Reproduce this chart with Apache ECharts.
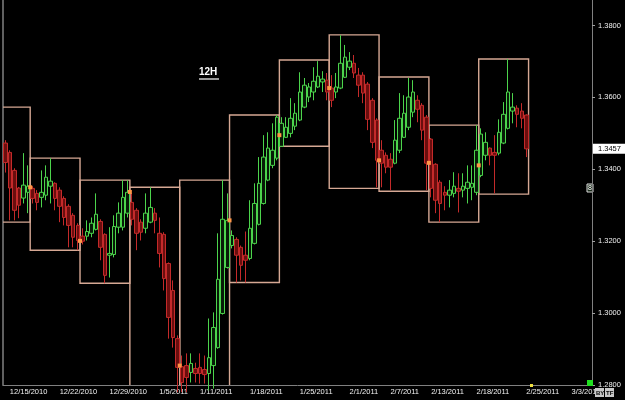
<!DOCTYPE html>
<html>
<head>
<meta charset="utf-8">
<title>12H</title>
<script src="https://cdn.jsdelivr.net/npm/echarts@6/dist/echarts.min.js"></script>
<style>
  html, body { margin: 0; padding: 0; background: #000; }
  #chart { width: 625px; height: 400px; }
</style>
</head>
<body>
<div id="chart"></div>
<script>
// 12H bars, [open, close, low, high]
const candles = [
  [1.3473, 1.3419, 1.3391, 1.3481], [1.3447, 1.3348, 1.3258, 1.3453], [1.3397, 1.3286, 1.3258, 1.3403],
  [1.3348, 1.3300, 1.3264, 1.3351], [1.3320, 1.3356, 1.3305, 1.3445], [1.3336, 1.3353, 1.3278, 1.3411],
  [1.3347, 1.3319, 1.3305, 1.3353], [1.3333, 1.3308, 1.3286, 1.3342], [1.3322, 1.3336, 1.3294, 1.3397],
  [1.3328, 1.3378, 1.3314, 1.3411], [1.3353, 1.3367, 1.3305, 1.3431], [1.3361, 1.3319, 1.3286, 1.3364],
  [1.3342, 1.3297, 1.3253, 1.3350], [1.3319, 1.3266, 1.3244, 1.3325], [1.3297, 1.3244, 1.3183, 1.3303],
  [1.3272, 1.3211, 1.3183, 1.3278], [1.3244, 1.3202, 1.3175, 1.3250],
  [1.3214, 1.3200, 1.3191, 1.3236], [1.3214, 1.3227, 1.3202, 1.3258], [1.3222, 1.3250, 1.3211, 1.3266],
  [1.3233, 1.3275, 1.3230, 1.3333], [1.3255, 1.3183, 1.3147, 1.3261], [1.3219, 1.3105, 1.3083, 1.3222],
  [1.3161, 1.3166, 1.3099, 1.3239], [1.3163, 1.3241, 1.3155, 1.3272], [1.3239, 1.3278, 1.3222, 1.3308],
  [1.3239, 1.3322, 1.3230, 1.3370], [1.3278, 1.3336, 1.3266, 1.3370],
  [1.3308, 1.3261, 1.3244, 1.3333], [1.3286, 1.3222, 1.3175, 1.3292], [1.3253, 1.3225, 1.3202, 1.3261],
  [1.3236, 1.3278, 1.3222, 1.3333], [1.3253, 1.3294, 1.3250, 1.3350], [1.3278, 1.3258, 1.3222, 1.3292],
  [1.3222, 1.3166, 1.3127, 1.3266], [1.3219, 1.3096, 1.3063, 1.3225], [1.3138, 1.2988, 1.2929, 1.3141],
  [1.3063, 1.2932, 1.2904, 1.3091], [1.2929, 1.2849, 1.2780, 1.2938],
  [1.2851, 1.2807, 1.2780, 1.2882], [1.2854, 1.2821, 1.2780, 1.2888], [1.2835, 1.2860, 1.2807, 1.2888],
  [1.2846, 1.2832, 1.2807, 1.2862], [1.2849, 1.2832, 1.2804, 1.2888], [1.2843, 1.2829, 1.2804, 1.2882],
  [1.2832, 1.2876, 1.2785, 1.2985], [1.2854, 1.2960, 1.2790, 1.3002], [1.2904, 1.3094, 1.2901, 1.3222],
  [1.2999, 1.3261, 1.2996, 1.3370], [1.3127, 1.3258, 1.3124, 1.3333],
  [1.3188, 1.3216, 1.3180, 1.3230], [1.3205, 1.3161, 1.3085, 1.3211], [1.3183, 1.3133, 1.3091, 1.3188],
  [1.3161, 1.3147, 1.3085, 1.3227], [1.3152, 1.3236, 1.3147, 1.3314], [1.3194, 1.3305, 1.3191, 1.3361],
  [1.3247, 1.3361, 1.3244, 1.3434], [1.3305, 1.3434, 1.3302, 1.3495], [1.3370, 1.3459, 1.3367, 1.3503],
  [1.3411, 1.3453, 1.3403, 1.3528], [1.3431, 1.3545, 1.3425, 1.3551],
  [1.3464, 1.3528, 1.3464, 1.3545], [1.3489, 1.3517, 1.3487, 1.3545], [1.3500, 1.3542, 1.3489, 1.3598],
  [1.3520, 1.3556, 1.3509, 1.3584], [1.3537, 1.3615, 1.3534, 1.3670], [1.3573, 1.3634, 1.3570, 1.3654],
  [1.3601, 1.3629, 1.3587, 1.3640], [1.3615, 1.3645, 1.3592, 1.3684], [1.3629, 1.3659, 1.3626, 1.3701],
  [1.3643, 1.3651, 1.3615, 1.3673], [1.3648, 1.3615, 1.3592, 1.3668],
  [1.3626, 1.3592, 1.3573, 1.3662], [1.3615, 1.3629, 1.3598, 1.3668], [1.3626, 1.3695, 1.3623, 1.3773],
  [1.3656, 1.3712, 1.3654, 1.3746], [1.3684, 1.3701, 1.3676, 1.3726], [1.3695, 1.3668, 1.3654, 1.3718],
  [1.3662, 1.3634, 1.3601, 1.3682], [1.3662, 1.3612, 1.3584, 1.3670], [1.3637, 1.3539, 1.3509, 1.3643],
  [1.3592, 1.3475, 1.3459, 1.3598], [1.3537, 1.3425, 1.3350, 1.3542],
  [1.3453, 1.3417, 1.3350, 1.3481], [1.3439, 1.3406, 1.3389, 1.3447], [1.3428, 1.3406, 1.3342, 1.3445],
  [1.3417, 1.3481, 1.3414, 1.3537], [1.3453, 1.3542, 1.3445, 1.3612], [1.3489, 1.3556, 1.3487, 1.3606],
  [1.3517, 1.3601, 1.3509, 1.3654], [1.3559, 1.3615, 1.3545, 1.3648], [1.3592, 1.3567, 1.3531, 1.3606],
  [1.3578, 1.3509, 1.3481, 1.3584], [1.3545, 1.3417, 1.3342, 1.3551],
  [1.3484, 1.3347, 1.3322, 1.3487], [1.3414, 1.3314, 1.3278, 1.3417], [1.3364, 1.3305, 1.3253, 1.3370],
  [1.3336, 1.3328, 1.3286, 1.3353], [1.3328, 1.3342, 1.3294, 1.3370], [1.3333, 1.3353, 1.3322, 1.3392],
  [1.3347, 1.3339, 1.3280, 1.3389], [1.3342, 1.3353, 1.3322, 1.3389], [1.3347, 1.3364, 1.3305, 1.3411],
  [1.3350, 1.3361, 1.3314, 1.3411], [1.3336, 1.3453, 1.3328, 1.3523],
  [1.3383, 1.3498, 1.3378, 1.3514], [1.3439, 1.3475, 1.3425, 1.3503], [1.3459, 1.3439, 1.3411, 1.3461],
  [1.3447, 1.3439, 1.3333, 1.3495], [1.3445, 1.3503, 1.3439, 1.3539], [1.3473, 1.3553, 1.3470, 1.3587],
  [1.3514, 1.3615, 1.3511, 1.3707], [1.3562, 1.3573, 1.3528, 1.3612], [1.3570, 1.3553, 1.3517, 1.3578],
  [1.3562, 1.3542, 1.3514, 1.3584], [1.3551, 1.3457, 1.3434, 1.3553]
]

// weekly range boxes (first week starts before the visible bars)
const weekStart = [-5, 6, 17, 28, 39, 50, 61, 72, 83, 94, 105]
const weekHigh = [1.3573, 1.3431, 1.3370, 1.3350, 1.3370, 1.3551, 1.3704, 1.3774, 1.3657, 1.3523, 1.3707]
const weekLow = [1.3253, 1.3175, 1.3083, 1.2785, 1.2785, 1.3085, 1.3464, 1.3347, 1.3339, 1.3253, 1.3331]
const weekOpen = [null, 1.3350, 1.3201, 1.3337, 1.2854, 1.3258, 1.3495, 1.3626, 1.3425, 1.3418, 1.3411]

const barCount = 130 // empty bars on the right
const tickIndex = [1, 12, 23, 34, 43, 54, 65, 76, 85, 94, 104, 115, 125]
const tickLabels = ['12/15/2010', '12/22/2010', '12/29/2010', '1/5/2011', '1/11/2011', '1/18/2011',
  '1/25/2011', '2/1/2011', '2/7/2011', '2/13/2011', '2/18/2011', '2/25/2011', '3/3/2011']
const lastPrice = 1.3457

const font = 'Liberation Sans, Arial, sans-serif'
const categories = Array.from({ length: barCount }, (_, i) => String(i))
const weeks = weekStart.map((s, i) => [s, s + 10, weekHigh[i], weekLow[i]])
const opens = weekStart.map((s, i) => [s, weekOpen[i]]).filter(d => d[1] != null)

function renderWeek(params, api) {
  const bw = api.size([1, 0])[0]
  const tl = api.coord([api.value(0), api.value(2)])
  const br = api.coord([api.value(1), api.value(3)])
  const x0 = tl[0] - bw / 2
  const x1 = br[0] + bw / 2
  return {
    type: 'rect',
    shape: { x: x0, y: tl[1], width: x1 - x0, height: br[1] - tl[1] },
    style: { fill: 'none', stroke: '#d6a894', lineWidth: 1.4 }
  }
}

// week open marker sits on the box's left edge
function renderOpen(params, api) {
  const bw = api.size([1, 0])[0]
  const p = api.coord([api.value(0), api.value(1)])
  return {
    type: 'rect',
    shape: { x: p[0] - bw / 2 - 2, y: p[1] - 2, width: 4, height: 4 },
    style: { fill: '#ff9646' }
  }
}

const chart = echarts.init(document.getElementById('chart'))
chart.setOption({
  animation: false,
  backgroundColor: '#000',
  title: {
    text: '12H',
    left: 199,
    top: 67,
    padding: 0,
    textStyle: { color: '#fff', fontSize: 10, fontWeight: 'bold', fontFamily: font }
  },
  grid: { left: 3, right: 33, top: 0, bottom: 15 },
  xAxis: {
    type: 'category',
    data: categories,
    axisLine: { lineStyle: { color: '#808080' } },
    axisTick: {
      interval: (i) => tickIndex.includes(i),
      length: 3,
      lineStyle: { color: '#808080' }
    },
    axisLabel: {
      interval: (i) => tickIndex.includes(i),
      formatter: (v, i) => tickLabels[tickIndex.indexOf(i)],
      color: '#f0f0f0',
      fontSize: 7.5,
      fontFamily: font,
      align: 'left',
      margin: 3
    },
    splitLine: { show: false }
  },
  yAxis: [
    {
      type: 'value',
      position: 'right',
      min: 1.28,
      max: 1.3871,
      interval: 0.02,
      axisLine: { show: true, lineStyle: { color: '#808080' } },
      axisTick: { show: true, length: 3, lineStyle: { color: '#a0a0a0' } },
      axisLabel: {
        color: '#f0f0f0',
        fontSize: 7.5,
        fontFamily: font,
        margin: 6,
        showMaxLabel: false,
        formatter: (v) => v.toFixed(4)
      },
      splitLine: { show: false }
    },
    {
      type: 'value',
      position: 'left',
      min: 1.28,
      max: 1.3871,
      axisLine: { show: true, lineStyle: { color: '#808080', width: 1.5 } },
      axisTick: { show: false },
      axisLabel: { show: false },
      splitLine: { show: false }
    }
  ],
  series: [
    {
      type: 'custom',
      renderItem: renderWeek,
      data: weeks,
      encode: { x: [0, 1], y: [2, 3] },
      clip: true,
      silent: true,
      z: 1
    },
    {
      type: 'candlestick',
      data: candles,
      barWidth: 4,
      z: 2,
      itemStyle: {
        color: '#071a07',
        color0: '#6a0e0e',
        borderColor: '#4cd44c',
        borderColor0: '#c42a2a',
        borderWidth: 1
      },
      markLine: {
        silent: true,
        symbol: 'none',
        precision: 4,
        lineStyle: { color: 'transparent', width: 0 },
        label: {
          position: 'end',
          distance: 1,
          formatter: (p) => p.value.toFixed(4),
          color: '#000',
          backgroundColor: '#fff',
          padding: [1, 5, 1, 5],
          fontSize: 7.5,
          fontFamily: font
        },
        data: [{ yAxis: lastPrice }]
      }
    },
    {
      type: 'custom',
      renderItem: renderOpen,
      data: opens,
      encode: { x: 0, y: 1 },
      clip: true,
      silent: true,
      z: 3
    }
  ],
  graphic: [
    { type: 'line', shape: { x1: 199, y1: 79, x2: 219, y2: 79 }, style: { stroke: '#fff', lineWidth: 1.2 } },
    { type: 'rect', shape: { x: 587, y: 184, width: 6, height: 8 }, style: { fill: '#1a2a1a', stroke: '#ddd', lineWidth: 1 } },
    { type: 'text', x: 588, y: 185, style: { text: '8', fill: '#fff', font: '7px ' + font } },
    { type: 'rect', shape: { x: 587, y: 380, width: 6, height: 6 }, style: { fill: '#20e020' }, z: 10 },
    { type: 'rect', shape: { x: 530, y: 384, width: 3, height: 3 }, style: { fill: '#f0e040' }, z: 10 },
    { type: 'rect', shape: { x: 595, y: 388, width: 9, height: 9 }, style: { fill: '#c8c8c8' }, z: 10 },
    { type: 'text', x: 596, y: 390, style: { text: 'BY', fill: '#000', font: 'bold 6px ' + font }, z: 11 },
    { type: 'rect', shape: { x: 605, y: 388, width: 9, height: 9 }, style: { fill: '#c8c8c8' }, z: 10 },
    { type: 'text', x: 606, y: 390, style: { text: 'TF', fill: '#000', font: 'bold 6px ' + font }, z: 11 }
  ]
})
</script>
</body>
</html>
